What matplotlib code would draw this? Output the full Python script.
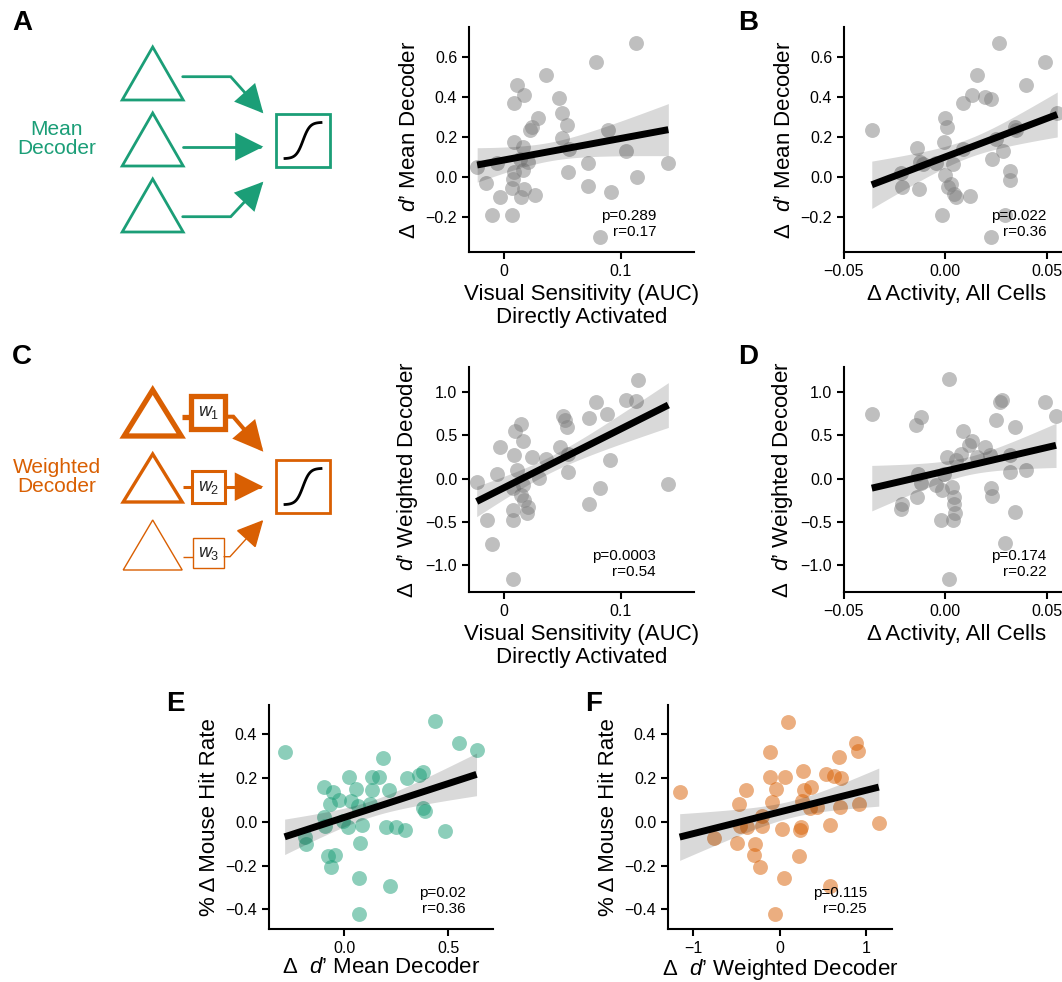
import numpy as np
import matplotlib
matplotlib.use("Agg")
import matplotlib.pyplot as plt
from matplotlib.patches import Polygon, Rectangle, FancyArrowPatch
from matplotlib.path import Path

plt.rcParams['font.family'] = ['Liberation Sans', 'DejaVu Sans']
plt.rcParams['mathtext.fontset'] = 'custom'
plt.rcParams['mathtext.rm'] = 'Liberation Sans'
plt.rcParams['mathtext.it'] = 'Liberation Sans:italic'
plt.rcParams['axes.linewidth'] = 1.5

GREEN = '#1b9e77'
ORANGE = '#d95f02'

# visual sensitivity vs mean decoder change
a_x = [0.113, 0.079, 0.036, 0.011, 0.017, 0.009, 0.047, 0.050, 0.029, 0.024, 0.022, 0.054, 0.089, 0.009,
       0.016, 0.050, 0.056, 0.105, -0.023, -0.006, 0.014, 0.021, 0.016, 0.009, 0.072, 0.141, 0.055, 0.114,
       -0.015, 0.008, 0.007, 0.017, 0.072, 0.092, -0.003, 0.015, 0.027, -0.010, 0.007, 0.082]
a_y = [0.67, 0.575, 0.508, 0.462, 0.408, 0.37, 0.395, 0.32, 0.297, 0.25, 0.233, 0.258, 0.237, 0.175,
       0.15, 0.197, 0.142, 0.13, 0.05, 0.07, 0.092, 0.075, 0.033, 0.025, 0.07, 0.07, 0.025, 0.0,
       -0.03, -0.008, -0.053, -0.058, -0.047, -0.075, -0.1, -0.1, -0.088, -0.192, -0.192, -0.3]

# activity change vs mean decoder change
b_x = [0.0267, 0.0492, 0.0158, 0.0399, 0.0129, 0.0194, 0.0223, 0.0085, 0.0, 0.0007, -0.0363, 0.0345, 0.035,
       0.0552, -0.0008, -0.014, 0.0085, 0.0248, 0.0285, 0.0231, -0.0127, -0.0111, -0.0046, 0.0036, -0.022,
       0.0, 0.0318, 0.0321, -0.0213, -0.013, 0.0011, 0.0028, 0.0044, 0.0052, 0.012, -0.0018, 0.0293, 0.0226]
b_y = [0.67, 0.575, 0.508, 0.462, 0.408, 0.40, 0.388, 0.37, 0.297, 0.25, 0.237, 0.25, 0.233,
       0.32, 0.175, 0.147, 0.142, 0.192, 0.13, 0.092, 0.075, 0.067, 0.07, 0.063, 0.02,
       0.008, 0.03, -0.017, -0.05, -0.062, -0.05, -0.033, -0.083, -0.1, -0.097, -0.188, -0.192, -0.3]

# visual sensitivity vs weighted decoder change
c_x = [0.1146, 0.1046, 0.113, 0.079, 0.0886, 0.073, 0.051, 0.052, 0.054, 0.015, 0.0094, 0.016, -0.003,
       0.048, 0.0089, 0.0237, 0.036, 0.055, 0.0909, -0.0063, 0.0109, 0.030, 0.055, -0.0234, 0.0166, 0.141,
       0.082, 0.008, 0.015, 0.017, 0.073, 0.0074, 0.0209, 0.0194, -0.0149, 0.008, -0.0106, 0.0074]
c_y = [1.142, 0.912, 0.896, 0.885, 0.75, 0.70, 0.719, 0.673, 0.596, 0.635, 0.546, 0.431, 0.365,
       0.365, 0.269, 0.25, 0.231, 0.288, 0.219, 0.058, 0.104, 0.012, 0.077, -0.038, -0.077, -0.065,
       -0.104, -0.104, -0.192, -0.242, -0.296, -0.358, -0.327, -0.396, -0.473, -0.473, -0.75, -1.154]

# activity change vs weighted decoder change
d_x = [0.0016, 0.028, 0.0272, 0.0492, -0.0363, -0.0119, -0.0143, 0.0252, 0.0546, 0.0345, 0.0085, 0.0129,
       0.0117, 0.0194, 0.022, 0.0158, 0.0077, 0.0007, 0.0052, 0.0321, 0.0318, 0.0399, -0.0135, -0.0119,
       -0.0046, -0.0005, -0.0018, 0.0033, 0.0226, 0.0231, -0.0138, 0.0044, 0.0044, -0.0213, -0.022,
       0.0049, 0.0345, -0.0021, 0.0036, 0.0293, 0.0016]
d_y = [1.154, 0.912, 0.885, 0.885, 0.742, 0.712, 0.615, 0.681, 0.719, 0.596, 0.55, 0.431,
       0.385, 0.365, 0.269, 0.25, 0.288, 0.25, 0.219, 0.269, 0.077, 0.096, 0.058, -0.05,
       -0.077, 0.05, -0.127, -0.096, -0.104, -0.204, -0.212, -0.212, -0.296, -0.296, -0.346,
       -0.396, -0.385, -0.481, -0.481, -0.742, -1.154]

# mean decoder change vs hit rate change
e_x = [0.439, 0.553, 0.636, -0.285, 0.1875, 0.024, 0.136, 0.168, 0.304, 0.361, 0.377, -0.098, -0.053,
       0.059, 0.136, 0.216, -0.024, 0.035, -0.066, 0.123, 0.067, 0.38, 0.388, -0.098, -0.005, -0.093,
       0.019, 0.088, 0.2, 0.248, 0.292, 0.484, -0.189, -0.181, 0.075, -0.077, -0.045, -0.061, 0.072,
       0.223, 0.072]
e_y = [0.459, 0.36, 0.327, 0.319, 0.292, 0.205, 0.205, 0.202, 0.198, 0.213, 0.228, 0.16, 0.137,
       0.148, 0.144, 0.144, 0.099, 0.096, 0.081, 0.081, 0.071, 0.061, 0.05, 0.023, 0.003, -0.02,
       -0.023, -0.015, -0.023, -0.023, -0.038, -0.041, -0.068, -0.102, -0.099, -0.157, -0.152, -0.208,
       -0.259, -0.294, -0.423]

# weighted decoder change vs hit rate change
f_x = [0.093, 0.888, -0.116, 0.903, 0.683, 0.27, 0.541, 0.625, 0.71, -0.116, 0.066, -1.158, -0.386,
       -0.039, 0.278, 0.363, -0.475, -0.089, 0.259, 0.355, 0.432, 0.703, 0.915, -0.205, 1.147, -0.456,
       -0.378, -0.205, 0.027, 0.247, 0.232, 0.587, -0.764, -0.494, -0.282, -0.293, 0.22, -0.224, 0.054,
       0.579, -0.05]
f_y = [0.456, 0.36, 0.319, 0.324, 0.294, 0.233, 0.216, 0.208, 0.198, 0.205, 0.205, 0.137, 0.144,
       0.148, 0.144, 0.157, 0.081, 0.091, 0.096, 0.061, 0.065, 0.065, 0.081, 0.026, -0.005, -0.02,
       -0.026, -0.02, -0.035, -0.026, -0.038, -0.015, -0.076, -0.096, -0.102, -0.152, -0.157, -0.205,
       -0.259, -0.294, -0.423]

stats = {'A': 'p=0.289\nr=0.17', 'B': 'p=0.022\nr=0.36', 'C': 'p=0.0003\nr=0.54',
         'D': 'p=0.174\nr=0.22', 'E': 'p=0.02\nr=0.36', 'F': 'p=0.115\nr=0.25'}

vis_ticks = [0, 0.1]
vis_labels = ['0', '0.1']
act_ticks = [-0.05, 0.0, 0.05]
act_labels = ['\u22120.05', '0.00', '0.05']
mean_ticks = [-0.2, 0.0, 0.2, 0.4, 0.6]
weighted_ticks = [-1.0, -0.5, 0.0, 0.5, 1.0]
hit_ticks = [-0.4, -0.2, 0.0, 0.2, 0.4]
e_xticks = [0.0, 0.5]
f_xticks = [-1, 0, 1]

lbl_mean = 'Δ  $d’$ Mean Decoder'
lbl_weighted = 'Δ  $d’$ Weighted Decoder'
lbl_vis = 'Visual Sensitivity (AUC)\nDirectly Activated'
lbl_act = 'Δ Activity, All Cells'
lbl_hit = '% Δ Mouse Hit Rate'

W, H = 1062, 982
fig = plt.figure(figsize=(W / 100, H / 100), dpi=100)


def rect(l, t, w, h):
    return [l / W, 1 - (t + h) / H, w / W, h / H]


def regpanel(ax, x, y, color, xlim, ylim, text, tx):
    x = np.asarray(x)
    y = np.asarray(y)
    ax.scatter(x, y, s=115, color=color, alpha=0.5, linewidths=0, zorder=2)
    # least squares fit with a band around the fitted mean
    b, a = np.polyfit(x, y, 1)
    n = len(x)
    resid = y - (a + b * x)
    s = np.sqrt(np.sum(resid ** 2) / (n - 2))
    xs = np.linspace(x.min(), x.max(), 100)
    se = s * np.sqrt(1 / n + (xs - x.mean()) ** 2 / np.sum((x - x.mean()) ** 2))
    ys = a + b * xs
    ax.fill_between(xs, ys - 1.35 * se, ys + 1.35 * se, color='k', alpha=0.15, lw=0, zorder=3)
    ax.plot(xs, ys, color='k', lw=5, zorder=4, solid_capstyle='butt')
    ax.set_xlim(xlim)
    ax.set_ylim(ylim)
    ax.spines['top'].set_visible(False)
    ax.spines['right'].set_visible(False)
    ax.tick_params(labelsize=11.5, width=1.5, length=5)
    ax.text(tx, 0.06, text, transform=ax.transAxes, ha='right', va='bottom',
            fontsize=11, linespacing=1.1)


axA = fig.add_axes(rect(469, 27, 225, 225))
regpanel(axA, a_x, a_y, 'grey', (-0.03, 0.163), (-0.375, 0.75), stats['A'], 0.835)
axA.set_xticks(vis_ticks, vis_labels)
axA.set_yticks(mean_ticks)
axA.set_xlabel(lbl_vis, fontsize=16, linespacing=1.1)
axA.set_ylabel(lbl_mean, fontsize=16)

axB = fig.add_axes(rect(844, 27, 225, 225))
regpanel(axB, b_x, b_y, 'grey', (-0.05, 0.061), (-0.375, 0.75), stats['B'], 0.9)
axB.set_xticks(act_ticks, act_labels)
axB.set_yticks(mean_ticks)
axB.set_xlabel(lbl_act, fontsize=16)
axB.set_ylabel(lbl_mean, fontsize=16)

axC = fig.add_axes(rect(469, 367, 225, 225))
regpanel(axC, c_x, c_y, 'grey', (-0.03, 0.163), (-1.31, 1.29), stats['C'], 0.83)
axC.set_xticks(vis_ticks, vis_labels)
axC.set_yticks(weighted_ticks)
axC.set_xlabel(lbl_vis, fontsize=16, linespacing=1.1)
axC.set_ylabel(lbl_weighted, fontsize=16)

axD = fig.add_axes(rect(844, 367, 225, 225))
regpanel(axD, d_x, d_y, 'grey', (-0.05, 0.061), (-1.31, 1.29), stats['D'], 0.9)
axD.set_xticks(act_ticks, act_labels)
axD.set_yticks(weighted_ticks)
axD.set_xlabel(lbl_act, fontsize=16)
axD.set_ylabel(lbl_weighted, fontsize=16)

axE = fig.add_axes(rect(269, 705, 224, 224))
regpanel(axE, e_x, e_y, GREEN, (-0.36, 0.715), (-0.49, 0.533), stats['E'], 0.88)
axE.set_xticks(e_xticks)
axE.set_yticks(hit_ticks)
axE.set_xlabel(lbl_mean, fontsize=16, labelpad=1)
axE.set_ylabel(lbl_hit, fontsize=16)

axF = fig.add_axes(rect(668, 705, 224, 224))
regpanel(axF, f_x, f_y, ORANGE, (-1.293, 1.30), (-0.49, 0.533), stats['F'], 0.888)
axF.set_xticks(f_xticks)
axF.set_yticks(hit_ticks)
axF.set_xlabel(lbl_weighted, fontsize=16, labelpad=1)
axF.set_ylabel(lbl_hit, fontsize=16)

# schematic layer in pixel coordinates
dg = fig.add_axes([0, 0, 1, 1], zorder=-1)
dg.set_xlim(0, W)
dg.set_ylim(H, 0)
dg.axis('off')


def tri(cx, top, bottom, half, color, lw):
    dg.add_patch(Polygon([(cx - half, bottom), (cx, top), (cx + half, bottom)], closed=True,
                         fill=False, edgecolor=color, lw=lw, joinstyle='miter'))


def arrow(pts, color, lw):
    codes = [Path.MOVETO] + [Path.LINETO] * (len(pts) - 1)
    dg.add_patch(FancyArrowPatch(path=Path(pts, codes), arrowstyle='-|>,head_length=1.7,head_width=0.85',
                                 mutation_scale=10, color=color, lw=lw, shrinkA=0, shrinkB=0,
                                 joinstyle='miter'))


def sigmoid_box(l, t, r, b, color, lw):
    dg.add_patch(Rectangle((l, t), r - l, b - t, fill=False, edgecolor=color, lw=lw))
    tt = np.linspace(-1, 1, 60)
    cx, cy = (l + r) / 2, (t + b) / 2
    hw = (r - l) / 2 - 9
    dg.plot(cx + hw * tt, cy - hw * np.tanh(2.6 * tt) / np.tanh(2.6), color='k', lw=2)


# mean decoder
for top, bottom in [(47, 100), (113, 166), (179, 232)]:
    tri(152.7, top, bottom, 30.5, GREEN, 2)
arrow([(182.7, 76.7), (230.7, 76.7), (263.3, 113.3)], GREEN, 2)
arrow([(183.3, 146.7), (263.3, 146.7)], GREEN, 2)
arrow([(182.7, 216.7), (230.7, 216.7), (263.3, 181.7)], GREEN, 2)
sigmoid_box(276, 114, 330, 167, GREEN, 2)
dg.text(57, 139, 'Mean\nDecoder', color=GREEN, fontsize=15, ha='center', va='center', linespacing=1.05)

# weighted decoder
tri(152.7, 390, 436, 28.5, ORANGE, 3.8)
tri(152.7, 454, 502, 29.5, ORANGE, 2.4)
tri(152.7, 520, 570, 29.5, ORANGE, 1)
dg.plot([181.7, 189.3], [416.7, 416.7], color=ORANGE, lw=3.8, solid_capstyle='butt')
dg.plot([183, 191.7], [486.7, 486.7], color=ORANGE, lw=2.2, solid_capstyle='butt')
dg.plot([183, 192.7], [556.7, 556.7], color=ORANGE, lw=1, solid_capstyle='butt')
dg.add_patch(Rectangle((190.5, 396), 34.5, 33, fill=False, edgecolor=ORANGE, lw=3.8))
dg.add_patch(Rectangle((191.7, 471), 33.3, 32, fill=False, edgecolor=ORANGE, lw=2.2))
dg.add_patch(Rectangle((192.7, 538.3), 31.3, 30, fill=False, edgecolor=ORANGE, lw=1))
for cy, w in [(412.5, '$w_1$'), (487, '$w_2$'), (553.3, '$w_3$')]:
    dg.text(208.3, cy, w, fontsize=13, ha='center', va='center', color='#222222')
arrow([(226.5, 416.7), (233.3, 416.7), (263.3, 451.7)], ORANGE, 2.9)
arrow([(226, 486.7), (263.3, 486.7)], ORANGE, 2.2)
arrow([(224, 556.7), (230, 556.7), (263.3, 520)], ORANGE, 1)
sigmoid_box(276, 460, 330, 513, ORANGE, 2)
dg.text(57, 477, 'Weighted\nDecoder', color=ORANGE, fontsize=15, ha='center', va='center', linespacing=1.05)

# panel letters
for letter, (px, py) in {'A': (22, 23), 'B': (748, 23), 'C': (22, 357), 'D': (748, 357),
                         'E': (175, 704), 'F': (594, 704)}.items():
    dg.text(px, py, letter, fontsize=20, fontweight='bold', ha='center', va='center')

fig.savefig('out.png', dpi=100)
